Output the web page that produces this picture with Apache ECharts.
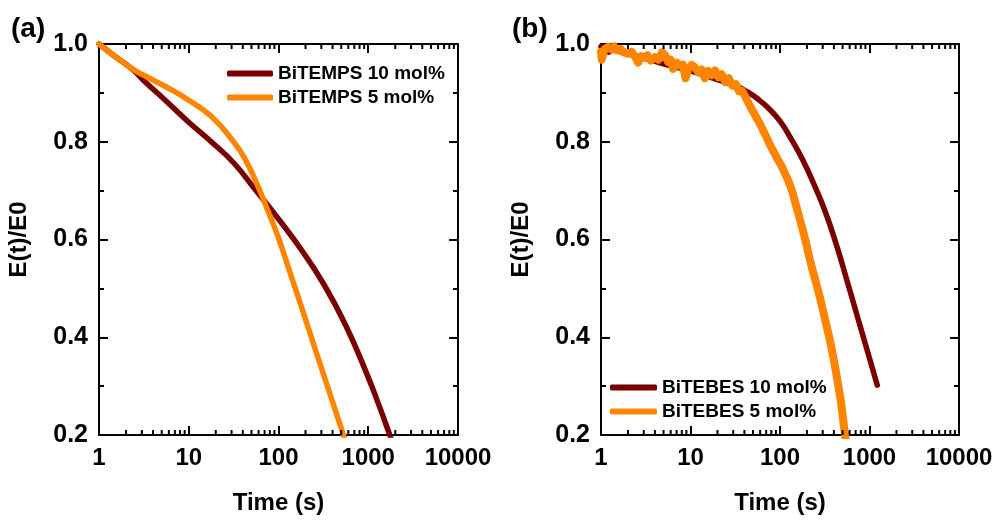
<!DOCTYPE html>
<html>
<head>
<meta charset="utf-8">
<script src="https://cdn.jsdelivr.net/npm/echarts@6/dist/echarts.min.js"></script>
<style>html,body{margin:0;padding:0;background:#fff}#c{width:1000px;height:520px}</style>
</head>
<body>
<div id="c"></div>
<script>
// ---------- data ----------
const xTickLabels = ['1', '10', '100', '1000', '10000'];
const minorTickValues = [2,3,4,5,6,7,8,9,20,30,40,50,60,70,80,90,200,300,400,500,600,700,800,900,2000,3000,4000,5000,6000,7000,8000,9000];

const seriesNamesA = ['BiTEMPS 10 mol%', 'BiTEMPS 5 mol%'];
const seriesNamesB = ['BiTEBES 10 mol%', 'BiTEBES 5 mol%'];

// (a) BiTEMPS 10 mol%
const tA10 = [1,1.5,2.4,3.16,5.62,10,17.8,31.6,56.2,100,178,316,562,1000,1334,1778,2100];
const vA10 = [1.0,0.975,0.947,0.925,0.883,0.84,0.8,0.757,0.7,0.642,0.58,0.51,0.424,0.318,0.258,0.195,0.16];
// (a) BiTEMPS 5 mol%
const tA5 = [1,1.5,2.4,3.16,5.62,10,17.8,31.6,42.2,56.2,75,100,133,178,237,316,422,562,650];
const vA5 = [1.0,0.975,0.948,0.936,0.912,0.885,0.852,0.8,0.765,0.718,0.662,0.603,0.535,0.465,0.395,0.325,0.255,0.185,0.15];
// (b) BiTEBES 10 mol%
const tB10 = [1,1.1,1.2,1.35,1.78,3.16,5.62,10,17.8,31.6,42.2,56.2,75,100,133,178,237,316,422,562,750,1000,1222];
const vB10 = [0.995,0.99,0.983,0.987,0.982,0.97,0.957,0.945,0.93,0.915,0.903,0.888,0.868,0.842,0.806,0.764,0.715,0.66,0.592,0.515,0.436,0.357,0.302];
// (b) BiTEBES 5 mol% (noisy)
const tB5 = [1.00,1.02,1.05,1.1,1.2,1.3,1.4,1.5,1.65,1.8,2.0,2.2,2.4,2.6,2.8,3.0,3.3,3.6,4.0,4.4,4.8,5.2,5.6,6.0,6.4,7.0,7.6,8.2,8.8,9.5,10.3,11.2,12.2,13.3,14.5,15.8,17.2,18.8,20.5,22.4,24.5,26.8,29.3,32,35,38,42,46,50,55,60,66,72,79,86,94,103,113,124,136,149,163,178,195,213,233,255,279,305,334,365,400,438,480,525,560];
const vB5 = [0.984,0.968,0.978,0.99,0.994,0.989,0.995,0.987,0.99,0.983,0.98,0.984,0.974,0.962,0.975,0.972,0.977,0.966,0.973,0.968,0.983,0.977,0.964,0.968,0.949,0.962,0.956,0.958,0.93,0.95,0.957,0.952,0.942,0.948,0.93,0.945,0.936,0.946,0.932,0.938,0.922,0.93,0.915,0.918,0.903,0.904,0.888,0.874,0.862,0.848,0.836,0.82,0.806,0.79,0.778,0.764,0.752,0.736,0.72,0.7,0.674,0.648,0.622,0.594,0.563,0.535,0.509,0.482,0.452,0.421,0.39,0.353,0.312,0.268,0.21,0.172];

// ---------- styling ----------
const MAROON = '#7a0000';
const ORANGE = '#ff8400';
const FONT = '"Liberation Sans", Arial, sans-serif';
const zip = (t, v) => t.map((x, i) => [x, v[i]]);

function xAxis(gridIndex, position, showLabels) {
  return {
    type: 'log', logBase: 10, min: 1, max: 10000, gridIndex, position,
    name: showLabels ? 'Time (s)' : '', nameLocation: 'middle', nameGap: 56,
    nameTextStyle: { fontSize: 24, fontWeight: 'bold', color: '#000', fontFamily: FONT },
    axisLine: { show: true, onZero: false, lineStyle: { color: '#000', width: 2 } },
    axisTick: { show: true, inside: true, length: 9, lineStyle: { color: '#000', width: 2 } },
    minorTick: { show: false },
    splitLine: { show: false },
    axisLabel: {
      show: showLabels, margin: 11, fontSize: 24, fontWeight: 'bold', color: '#000', fontFamily: FONT,
      formatter: v => { const i = Math.round(Math.log10(v)); return xTickLabels[i] !== undefined ? xTickLabels[i] : ''; }
    }
  };
}
function yAxis(gridIndex, position, showLabels) {
  return {
    type: 'value', min: 0.2, max: 1.0, interval: 0.2, gridIndex, position,
    name: showLabels ? 'E(t)/E0' : '', nameLocation: 'middle', nameGap: 68, nameRotate: 90,
    nameTextStyle: { fontSize: 24, fontWeight: 'bold', color: '#000', fontFamily: FONT },
    axisLine: { show: true, onZero: false, lineStyle: { color: '#000', width: 2 } },
    axisTick: { show: true, inside: true, length: 9, lineStyle: { color: '#000', width: 2 } },
    minorTick: { show: true, splitNumber: 2, length: 5, lineStyle: { color: '#000', width: 2 } },
    splitLine: { show: false },
    axisLabel: {
      show: showLabels, margin: 11, fontSize: 25, fontWeight: 'bold', color: '#000', fontFamily: FONT,
      formatter: v => v.toFixed(1)
    }
  };
}
function minorTicks(xi, yi) {
  return {
    type: 'custom', xAxisIndex: xi, yAxisIndex: yi, silent: true, clip: false, z: 10,
    data: minorTickValues.map(v => [v, 0.2]),
    encode: { x: 0, y: 1 },
    renderItem: (params, api) => {
      const x = api.value(0);
      const pb = api.coord([x, 0.2]);
      const pt = api.coord([x, 1.0]);
      const st = { stroke: '#000', lineWidth: 2 };
      return { type: 'group', children: [
        { type: 'line', shape: { x1: pb[0], y1: pb[1], x2: pb[0], y2: pb[1] - 5 }, style: st },
        { type: 'line', shape: { x1: pt[0], y1: pt[1], x2: pt[0], y2: pt[1] + 5 }, style: st }
      ]};
    }
  };
}
function lineSeries(name, data, color, xi, yi, width, smooth) {
  return {
    name, type: 'line', data, xAxisIndex: xi, yAxisIndex: yi,
    showSymbol: false, symbol: 'none', smooth, clip: true,
    lineStyle: { color, width, cap: 'round', join: 'round' }, itemStyle: { color },
    emphasis: { disabled: true }, z: 3
  };
}
const legendCommon = {
  orient: 'vertical', icon: 'roundRect', itemHeight: 6, itemGap: 5,
  textStyle: { fontSize: 19, fontWeight: 'bold', color: '#000', fontFamily: FONT, lineHeight: 19 },
  selectedMode: false
};

const option = {
  animation: false,
  backgroundColor: '#fff',
  grid: [
    { left: 99, top: 44, width: 359, height: 393 },
    { left: 601, top: 44, width: 358, height: 393 }
  ],
  xAxis: [ xAxis(0, 'bottom', true), xAxis(0, 'top', false), xAxis(1, 'bottom', true), xAxis(1, 'top', false) ],
  yAxis: [ yAxis(0, 'left', true), yAxis(0, 'right', false), yAxis(1, 'left', true), yAxis(1, 'right', false) ],
  legend: [
    Object.assign({ data: seriesNamesA, left: 222, top: 59, itemWidth: 46 }, legendCommon),
    Object.assign({ data: seriesNamesB, left: 605, top: 373, itemWidth: 47 }, legendCommon)
  ],
  graphic: [
    { type: 'text', left: 11, top: 15, style: { text: '(a)', fontSize: 28, fontWeight: 'bold', fill: '#000', fontFamily: FONT } },
    { type: 'text', left: 512, top: 15, style: { text: '(b)', fontSize: 28, fontWeight: 'bold', fill: '#000', fontFamily: FONT } }
  ],
  series: [
    lineSeries(seriesNamesA[0], zip(tA10, vA10), MAROON, 0, 0, 5.5, true),
    lineSeries(seriesNamesA[1], zip(tA5, vA5), ORANGE, 0, 0, 5.5, true),
    lineSeries(seriesNamesB[0], zip(tB10, vB10), MAROON, 2, 2, 5.5, true),
    lineSeries(seriesNamesB[1], zip(tB5, vB5), ORANGE, 2, 2, 8, false),
    minorTicks(0, 0),
    minorTicks(2, 2)
  ]
};
const chart = echarts.init(document.getElementById('c'), null, { renderer: 'canvas' });
chart.setOption(option);
</script>
</body>
</html>
